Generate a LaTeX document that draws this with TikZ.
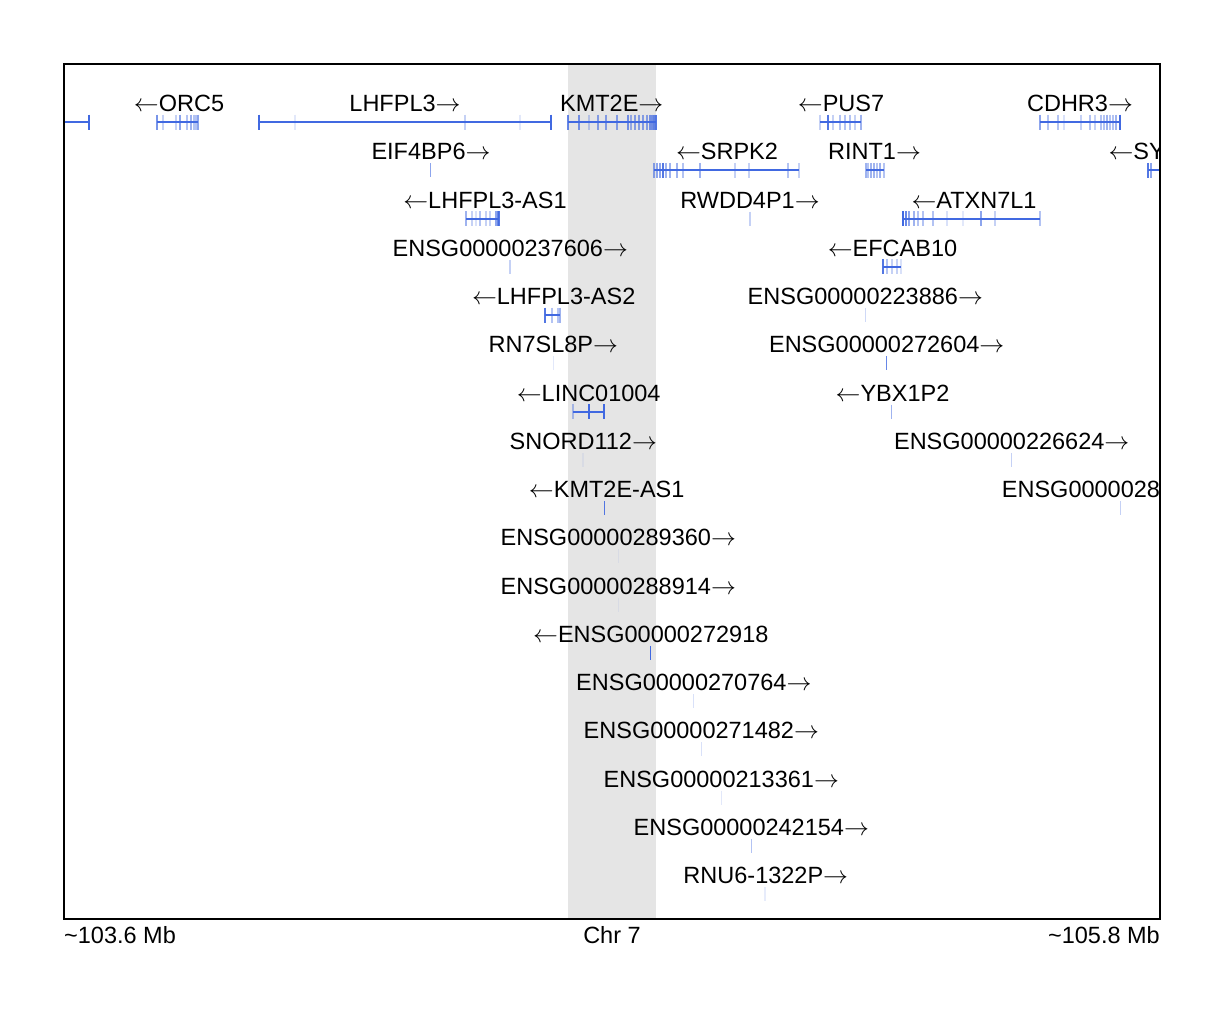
\documentclass[tikz,border=0pt]{standalone}
\usepackage{fontspec}
\newfontfamily\lblfont{Liberation Sans}
\definecolor{gblue}{RGB}{65,105,225}
\definecolor{band}{RGB}{229,229,229}
\newcommand\RA{\ensuremath{\rightarrow}}
\newcommand\LA{\ensuremath{\leftarrow}}
\newcommand\gtrack[4]{%
  \draw[intron] (#2,#1) -- (#3,#1);
  \foreach \xx/\oo in {#4} {\draw[exon, draw opacity=\oo] (\xx,{#1-7.5}) -- (\xx,{#1+7.5});}}
\newcommand\gtick[3]{\draw[exon, draw opacity=#3] (#2,{#1-7}) -- (#2,{#1+7});}
\begin{document}
\begin{tikzpicture}[x=1pt,y=-1pt,
  lbl/.style={font=\lblfont\fontsize{23.5}{28}\selectfont, inner sep=0pt, anchor=base},
  intron/.style={draw=gblue, line width=2pt},
  exon/.style={draw=gblue, line width=1.5pt}]
\useasboundingbox[fill=white] (0,0) rectangle (1224,1012);
\fill[band] (568,64) rectangle (656,919);
\begin{scope}
\clip (64,64) rectangle (1160,919);
% row 1
\node[lbl] (orc5) at (179,111.5) {\LA ORC5};
\node[lbl] (lhfpl3) at (405,111.5) {LHFPL3\RA};
\node[lbl] (kmt2e) at (611.7,111.5) {KMT2E\RA};
\node[lbl] (pus7) at (841,111.5) {\LA PUS7};
\node[lbl] (cdhr3) at (1080,111.5) {CDHR3\RA};
\gtrack{122}{60}{89}{89/1}
\gtrack{122}{157}{198}{157/0.7,163/0.3,176/0.3,180/0.6,187/0.4,191/0.5,194/0.4,196/0.4,198/0.6}
\gtrack{122}{259}{551}{259/1,295/0.15,465/0.3,520/0.15,551/1}
\gtrack{122}{568}{656}{568/0.8,579/0.7,589/0.3,598/0.6,606/0.6,617/0.6,628/0.7,631/0.5,635/0.6,639/0.6,643/0.6,647/0.6,650/0.7,652/0.7,654/0.8,656/0.9}
\gtrack{122}{820}{861}{820/0.3,828/0.9,833/0.3,840/0.4,845/0.4,850/0.4,855/0.3,861/0.5}
\gtrack{122}{1040}{1120}{1040/0.6,1048/0.4,1058/0.4,1064/0.2,1081/0.3,1090/0.4,1095/0.3,1101/0.4,1104/0.4,1107/0.5,1110/0.4,1113/0.4,1116/0.5,1120/1}
% row 2
\node[lbl] (eif4bp6) at (431,159.75) {EIF4BP6\RA};
\node[lbl] (srpk2) at (727,159.75) {\LA SRPK2};
\node[lbl] (rint1) at (874.5,159.75) {RINT1\RA};
\node[lbl, anchor=base west] (sypl1) at (1108.3,159.75) {\LA SYPL1};
\gtick{170.25}{430.7}{0.6}
\gtrack{170.25}{654}{799}{654/0.6,657/0.6,660/0.6,663/0.9,666/0.5,670/0.5,677/0.5,683/0.4,700/0.5,735/0.3,749/0.3,788/0.4,799/0.3}
\gtrack{170.25}{866}{884}{866/0.5,868/0.4,871/0.5,874/0.5,877/0.4,880/0.5,884/0.4}
\gtrack{170.25}{1148}{1165}{1148/0.9,1151/0.6}
% row 3
\node[lbl] (lhfpl3as1) at (485,208) {\LA LHFPL3-AS1};
\node[lbl] (rwdd4p1) at (750,208) {RWDD4P1\RA};
\node[lbl] (atxn7l1) at (974,208) {\LA ATXN7L1};
\gtrack{218.5}{466}{499}{466/0.5,472/0.3,476/0.2,480/0.4,486/0.3,490/0.3,496/0.6,498/0.8,499/0.9}
\gtick{218.5}{750}{0.3}
\gtrack{218.5}{903}{1040}{903/1,906/0.8,909/0.6,914/0.5,918/0.4,923/0.4,933/0.4,947/0.2,963/0.15,981/0.6,995/0.3,1040/0.4}
% row 4
\node[lbl] (ensg237606) at (510.3,256.25) {ENSG00000237606\RA};
\node[lbl] (efcab10) at (892.5,256.25) {\LA EFCAB10};
\gtick{266.75}{510}{0.3}
\gtrack{266.75}{883}{901}{883/0.9,887/0.4,892/0.3,897/0.3,901/0.2}
% row 5
\node[lbl] (lhfpl3as2) at (553.7,304.5) {\LA LHFPL3-AS2};
\node[lbl] (ensg223886) at (865.3,304.5) {ENSG00000223886\RA};
\gtrack{315}{545}{560}{545/0.9,552/0.4,558/0.4,560/0.5}
\gtick{315}{865.7}{0.25}
% row 6
\node[lbl] (rn7sl8p) at (553.3,352.75) {RN7SL8P\RA};
\node[lbl] (ensg272604) at (886.7,352.75) {ENSG00000272604\RA};
\gtick{363.25}{553.3}{0.15}
\gtick{363.25}{886.3}{0.8}
% row 7
\node[lbl] (linc01004) at (588.7,401) {\LA LINC01004};
\node[lbl] (ybx1p2) at (892.5,401) {\LA YBX1P2};
\gtrack{411.5}{573}{604}{573/0.4,589/1,604/1}
\gtick{411.5}{891.7}{0.5}
% row 8
\node[lbl] (snord112) at (583.3,449.25) {SNORD112\RA};
\node[lbl] (ensg226624) at (1011.7,449.25) {ENSG00000226624\RA};
\gtick{459.75}{583}{0.08}
\gtick{459.75}{1011.3}{0.3}
% row 9
\node[lbl] (kmt2eas1) at (606.7,497.5) {\LA KMT2E-AS1};
\node[lbl, anchor=base west] (ensg28) at (1001.7,497.5) {ENSG00000281946\RA};
\gtick{508}{604.3}{0.9}
\gtick{508}{1120.7}{0.3}
% rows 10-17
\node[lbl] (ensg289360) at (618.3,545.75) {ENSG00000289360\RA};
\gtick{556.25}{618.3}{0.08}
\node[lbl] (ensg288914) at (618.3,594) {ENSG00000288914\RA};
\gtick{604.5}{618.3}{0.08}
\node[lbl] (ensg272918) at (650.8,642.25) {\LA ENSG00000272918};
\gtick{652.75}{650.3}{1}
\node[lbl] (ensg270764) at (693.8,690.5) {ENSG00000270764\RA};
\gtick{701}{693.3}{0.2}
\node[lbl] (ensg271482) at (701.3,738.75) {ENSG00000271482\RA};
\gtick{749.25}{701.7}{0.2}
\node[lbl] (ensg213361) at (721.3,787) {ENSG00000213361\RA};
\gtick{797.5}{721.7}{0.15}
\node[lbl] (ensg242154) at (751.3,835.25) {ENSG00000242154\RA};
\gtick{845.75}{751.7}{0.4}
\node[lbl] (rnu6) at (765.8,883.5) {RNU6-1322P\RA};
\gtick{894}{765}{0.12}
\end{scope}
\draw[line width=2.5pt] (64,64) rectangle (1160,919);
\node[lbl, anchor=base west] (left) at (64,943) {\textasciitilde 103.6 Mb};
\node[lbl] (chr) at (612,943) {Chr 7};
\node[lbl, anchor=base east] (right) at (1160,943) {\textasciitilde 105.8 Mb};
\end{tikzpicture}
\end{document}
